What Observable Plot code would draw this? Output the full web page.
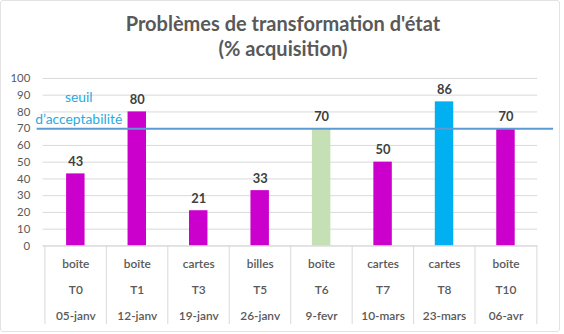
<!DOCTYPE html>
<html>
<head>
<meta charset="utf-8">
<script src="https://cdn.jsdelivr.net/npm/d3@7"></script>
<script src="https://cdn.jsdelivr.net/npm/@observablehq/plot@0.6"></script>
<style>
  html, body { margin: 0; padding: 0; background: #fff; }
  #frame { position: relative; width: 558px; height: 330px; border: 1px solid #e3e3e3; border-radius: 3px; overflow: visible; font-family: Lato, "Open Sans", sans-serif; }
  #title { height: 68px; box-sizing: border-box; padding-top: 10px; text-align: center; font-weight: 700; font-size: 20px; line-height: 25px; color: #595959; width: 564px; }
  #chart { position: absolute; left: -1px; top: 67px; }
</style>
</head>
<body>
<div id="frame">
  <div id="title">Problèmes de transformation d'état<br>(% acquisition)</div>
  <div id="chart"></div>
</div>
<script>
const materials = ["boîte", "boîte", "cartes", "billes", "boîte", "cartes", "cartes", "boîte"];
const tests = ["T0", "T1", "T3", "T5", "T6", "T7", "T8", "T10"];
const dates = ["05-janv", "12-janv", "19-janv", "26-janv", "9-fevr", "10-mars", "23-mars", "06-avr"];
const values = [43, 80, 21, 33, 70, 50, 86, 70];
const colors = ["#cc00cc", "#cc00cc", "#cc00cc", "#cc00cc", "#c5e0b4", "#cc00cc", "#00b0f0", "#cc00cc"];
const threshold = 70;
const thresholdLabel = "seuil\nd\u2019acceptabilité";
const yTicks = [0, 10, 20, 30, 40, 50, 60, 70, 80, 90, 100];

const data = tests.map((t, i) => ({test: t, material: materials[i], date: dates[i], value: values[i], color: colors[i]}));

const W = 564, H = 266, mL = 43, mR = 22, mT = 10, mB = 87;
const bw = (W - mL - mR) / tests.length;
const barW = 19;
const ink = "#595959";
const grid = "#d9d9d9";

const chart = Plot.plot({
  width: W,
  height: H,
  marginLeft: mL,
  marginRight: mR,
  marginTop: mT,
  marginBottom: mB,
  style: {fontFamily: "Lato, 'Open Sans', sans-serif", background: "transparent", overflow: "visible"},
  x: {domain: tests, padding: 0},
  y: {domain: [0, 100]},
  marks: [
    Plot.gridY(yTicks, {stroke: grid, strokeOpacity: 1, strokeWidth: 1}),
    Plot.axisY(yTicks, {tickSize: 0, tickPadding: 13, fontSize: 11.5, fill: ink, label: null}),
    Plot.ruleX(tests, {x: d => d, y1: 0, y2: -47, dx: -bw / 2, stroke: grid, strokeWidth: 1}),
    Plot.ruleX(tests.slice(-1), {x: d => d, y1: 0, y2: -47, dx: bw / 2, stroke: grid, strokeWidth: 1}),
    Plot.axisX({
      tickSize: 0,
      tickPadding: 4,
      fontSize: 12,
      fill: ink,
      fontWeight: 600,
      lineHeight: 2.17,
      label: null,
      tickFormat: t => { const i = tests.indexOf(t); return materials[i] + "\n" + tests[i] + "\n" + dates[i]; }
    }),
    Plot.barY(data, {x: "test", y: "value", fill: "color", insetLeft: (bw - barW) / 2, insetRight: (bw - barW) / 2}),
    Plot.text(data, {x: "test", y: "value", text: d => String(d.value), lineAnchor: "bottom", dy: -8, fontSize: 13, fontWeight: 700, fill: "#404040"}),
    Plot.ruleY([threshold], {stroke: "#5b9bd5", strokeWidth: 2, insetLeft: -6, insetRight: -16}),
    Plot.text([threshold], {x: () => tests[0], y: d => d, text: () => thresholdLabel, lineAnchor: "bottom", dy: -5, dx: 3, lineHeight: 1.55, fontSize: 14, fill: "#29abe2"}),
    Plot.ruleY([0], {stroke: grid, strokeWidth: 1})
  ]
});
document.getElementById("chart").appendChild(chart);
</script>
</body>
</html>
